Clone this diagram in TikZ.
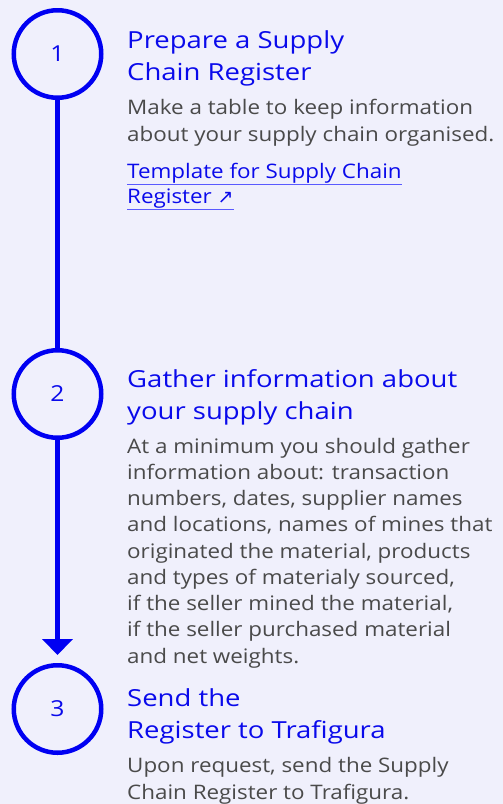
\documentclass[tikz,border=0pt]{standalone}
\usepackage{fontspec}
\setmainfont{Open Sans}
\newfontfamily\symfont{DejaVu Sans}
\usetikzlibrary{arrows.meta}

\definecolor{pagebg}{HTML}{F0F0FC}
\definecolor{stepblue}{HTML}{0000F2}
\definecolor{headblue}{HTML}{0A0AEB}
\definecolor{bodygrey}{HTML}{4A4A4A}
\definecolor{linkline}{HTML}{5A5AFF}

% wide set of the text face
\newfontfamily\widebody[FakeStretch=1.12]{Open Sans}
\newfontfamily\widehead[FakeStretch=1.17]{Open Sans}

\tikzset{
  stepcircle/.style={circle, draw=stepblue, line width=4.5pt, minimum size=87.5pt,
    inner sep=0pt, text=headblue, font=\widebody\fontsize{22}{24}\selectfont},
  stepline/.style={draw=stepblue, line width=4.5pt},
  % multi-line nodes are placed by the baseline of their last line
  steptitle/.style={anchor=base west, inner sep=0pt, align=left, text=headblue,
    font=\widehead\fontsize{23.5}{31.5}\selectfont},
  stepbody/.style={anchor=base west, inner sep=0pt, align=left, text=bodygrey,
    font=\widebody\fontsize{20}{26.25}\selectfont},
  steplink/.style={anchor=base west, inner sep=0pt, text=headblue,
    font=\widebody\fontsize{20}{25}\selectfont},
  linkul/.style={draw=linkline, line width=1.4pt},
}

\begin{document}
\begin{tikzpicture}[x=1pt,y=-1pt]
  \fill[pagebg] (0,0) rectangle (503,804);
  \useasboundingbox (0,0) rectangle (503,804);

  % numbered step markers
  \node[stepcircle] (c1) at (57.5,54) {1};
  \node[stepcircle] (c2) at (57.5,394) {2};
  \node[stepcircle] (c3) at (57.5,709) {3};

  % connectors between the markers
  \draw[stepline] (c1) -- (c2);
  \draw[stepline, -{Triangle[width=30pt,length=16pt]}, shorten >=8pt] (c2) -- (c3);

  % step 1
  \node[steptitle] (t1) at (127,80) {Prepare a Supply\\Chain Register};
  \node[stepbody] (b1) at (127,141) {Make a table to keep information\\about your supply chain organised.};
  \node[steplink] (l1a) at (127,178) {Template for Supply Chain};
  \node[steplink] (l1b) at (127,203) {Register {\symfont\fontsize{19}{19}\selectfont ↗}};
  \draw[linkul] ([yshift=-6.2pt]l1a.base west) -- ([yshift=-6.2pt]l1a.base east);
  \draw[linkul] ([yshift=-6.2pt]l1b.base west) -- ([yshift=-6.2pt]l1b.base east);

  % step 2
  \node[steptitle] (t2) at (127,419) {Gather information about\\your supply chain};
  \node[stepbody] (b2) at (127,663) {At a minimum you should gather\\information about: transaction\\numbers, dates, supplier names\\and locations, names of mines that\\originated the material, products\\and types of materialy sourced,\\if the seller mined the material,\\if the seller purchased material\\and net weights.};

  % step 3
  \node[steptitle] (t3) at (127,738) {Send the\\Register to Trafigura};
  \node[stepbody] (b3) at (127,799) {Upon request, send the Supply\\Chain Register to Trafigura.};
\end{tikzpicture}
\end{document}
